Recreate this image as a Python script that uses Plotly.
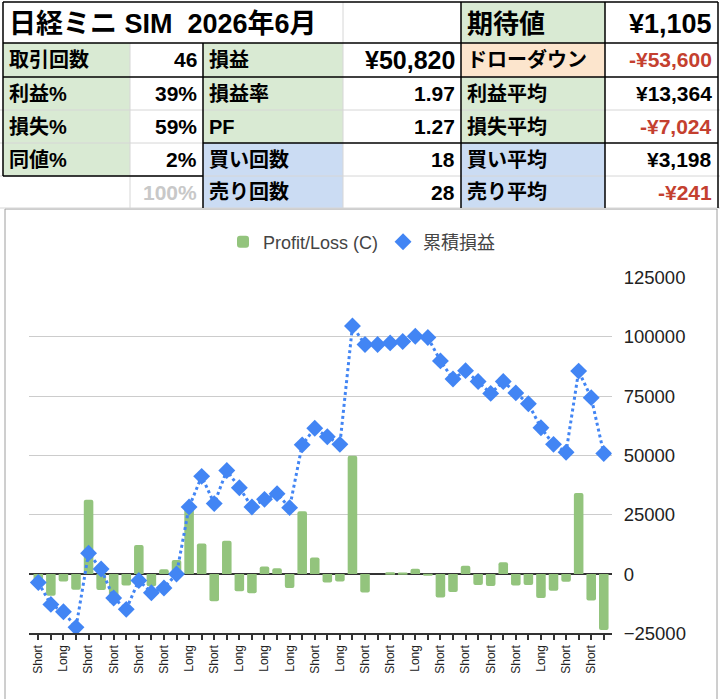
import plotly.graph_objects as go

# trade-by-trade profit/loss (yen) and cumulative P/L
pnl = [-3600, -9200, -3100, -6600, 31300, -6700, -12200, -4800, 12200, -5200,
       2000, 5900, 28300, 12900, -11500, 14000, -7300, -8100, 3200, 2400,
       -5900, 26500, 7000, -3600, -3200, 49900, -7800, 0, 700, 600,
       2200, -500, -9900, -7600, 3500, -4600, -5000, 5000, -4800, -4600,
       -10100, -7000, -3300, 34200, -11200, -23580]
cum_pnl = [-3600, -12800, -15900, -22500, 8800, 2100, -10100, -14900, -2700, -7900,
           -5900, 0, 28300, 41200, 29700, 43700, 36400, 28300, 31500, 33900,
           28000, 54500, 61500, 57900, 54700, 104600, 96800, 96800, 97500, 98100,
           100300, 99800, 89900, 82300, 85800, 81200, 76200, 81200, 76400, 71800,
           61700, 54700, 51400, 85600, 74400, 50820]
# every other trade is labelled on the x axis
tick_labels = ["Short", "Long", "Short", "Short", "Short", "Short", "Long", "Short",
               "Long", "Long", "Long", "Short", "Long", "Short", "Short", "Long",
               "Short", "Short", "Short", "Short", "Long", "Short", "Short"]
y_ticks = [-25000, 0, 25000, 50000, 75000, 100000, 125000]

# summary table
title_text = "日経ミニ SIM\u00a0 2026年6月"
ev_label, ev_value = "期待値", "¥1,105"
labels_a = ["取引回数", "利益%", "損失%", "同値%", ""]
values_b = ["46", "39%", "59%", "2%", "100%"]
labels_c = ["損益", "損益率", "PF", "買い回数", "売り回数"]
values_d = ["¥50,820", "1.97", "1.27", "18", "28"]
labels_e = ["ドローダウン", "利益平均", "損失平均", "買い平均", "売り平均"]
values_f = ["-¥53,600", "¥13,364", "-¥7,024", "¥3,198", "-¥241"]

W, H = 720, 699
GREEN = "#d9ead3"
BLUE = "#cbdcf3"
ORANGE = "#fce5cd"
RED = "#c4402f"
FONT = "Liberation Sans, Arial, Noto Sans CJK JP, sans-serif"

def fx(x):
    return x / W

def fy(y):
    return 1 - y / H

col_x = [3, 130, 203, 343, 461, 605, 718]
row_y = [2, 43, 77, 110, 143, 176, 208]

shapes = []
annotations = []

def cell(c0, c1, r, fill):
    shapes.append(dict(type="rect", xref="paper", yref="paper", layer="below",
                       x0=fx(col_x[c0]), x1=fx(col_x[c1]),
                       y0=fy(row_y[r + 1]), y1=fy(row_y[r]),
                       fillcolor=fill, line=dict(width=0)))

def text(c, r, s, align="left", size=20, color="black", dy=0):
    if align == "left":
        x, anchor = col_x[c] + 4, "left"
    else:
        x, anchor = col_x[c + 1] - 4, "right"
    yc = (row_y[r] + row_y[r + 1]) / 2 + dy
    annotations.append(dict(xref="paper", yref="paper", x=fx(x), y=fy(yc),
                            xanchor=anchor, yanchor="middle", showarrow=False,
                            text=s, font=dict(family=FONT, size=size, color=color,
                                              weight="bold")))

def hline(y, x0, x1, color, width):
    shapes.append(dict(type="line", xref="paper", yref="paper", x0=fx(x0), x1=fx(x1),
                       y0=fy(y), y1=fy(y), line=dict(color=color, width=width)))

def vline(x, y0, y1, color, width):
    shapes.append(dict(type="line", xref="paper", yref="paper", x0=fx(x), x1=fx(x),
                       y0=fy(y0), y1=fy(y1), line=dict(color=color, width=width)))

# cell fills
cell(4, 5, 0, GREEN)
for r in range(1, 5):
    cell(0, 1, r, GREEN)
for r in range(1, 4):
    cell(2, 3, r, GREEN)
for r in range(4, 6):
    cell(2, 3, r, BLUE)
    cell(4, 5, r, BLUE)
cell(4, 5, 1, ORANGE)
for r in range(2, 4):
    cell(4, 5, r, GREEN)

# light sheet gridlines
LIGHT = "#d6d6d6"
for y in [110, 176, 208]:
    hline(y, 0, 720, LIGHT, 1)
hline(143, 0, 203, LIGHT, 1)
vline(130, 43, 208, LIGHT, 1)
vline(343, 2, 208, LIGHT, 1)

# dark borders
for y in [2, 43, 77]:
    hline(y, 3, 718, "black", 1.5)
hline(143, 203, 718, "black", 1.5)
hline(176, 3, 203, "black", 1.5)
vline(3, 2, 176, "black", 1.5)
vline(203, 43, 208, "black", 1.5)
vline(461, 2, 208, "black", 1.5)
vline(605, 2, 208, "black", 1.5)
vline(718, 2, 208, "black", 1.5)

# table texts
text(0, 0, title_text, size=27, dy=1)
text(4, 0, ev_label, size=26, dy=1)
text(5, 0, ev_value, align="right", size=27, dy=1)
for i in range(5):
    r = i + 1
    text(0, r, labels_a[i], size=20)
    text(1, r, values_b[i], align="right", size=21,
         color="#c8c8c8" if values_b[i] == "100%" else "black")
    text(2, r, labels_c[i], size=20)
    text(3, r, values_d[i], align="right", size=25 if i == 0 else 21)
    text(4, r, labels_e[i], size=20)
    text(5, r, values_f[i], align="right", size=21,
         color=RED if values_f[i].startswith("-") else "black")

# chart frame
shapes.append(dict(type="rect", xref="paper", yref="paper", layer="below",
                   x0=fx(5), x1=fx(717), y0=fy(705), y1=fy(209),
                   fillcolor="white", line=dict(color="#9e9e9e", width=1)))

x = list(range(len(pnl)))
tickvals = x
ticktext = [tick_labels[i // 2] if i % 2 == 0 else "" for i in x]

fig = go.Figure()
fig.add_trace(go.Bar(x=x, y=pnl, name="Profit/Loss (C)",
                     marker=dict(color="#93c47d", line=dict(width=0))))
fig.add_trace(go.Scatter(x=x, y=cum_pnl, mode="lines", showlegend=False,
                         line=dict(color="#4285f4", width=3, dash="dot")))
fig.add_trace(go.Scatter(x=x, y=cum_pnl, mode="markers", name="累積損益",
                         marker=dict(color="#4285f4", symbol="diamond", size=13)))

fig.update_layout(
    width=W, height=H,
    margin=dict(l=0, r=0, t=0, b=0, autoexpand=False),
    paper_bgcolor="white", plot_bgcolor="rgba(0,0,0,0)",
    bargap=0.24, barcornerradius=2,
    shapes=shapes, annotations=annotations,
    showlegend=True,
    legend=dict(orientation="h", x=fx(362), xanchor="center", y=fy(242), yanchor="middle",
                font=dict(family=FONT, size=18, color="#444444"), bgcolor="rgba(0,0,0,0)"),
    xaxis=dict(domain=[fx(29.3), fx(611.7)], range=[-0.716, 45.63], automargin=False,
               tickmode="array", tickvals=tickvals, ticktext=ticktext, tickangle=-90,
               ticks="outside", ticklen=5, tickwidth=1.5, tickcolor="#333333",
               showline=True, linecolor="#333333", linewidth=2, showgrid=False,
               zeroline=False, tickfont=dict(family=FONT, size=12, color="#222222")),
    yaxis=dict(domain=[fy(633.3), fy(277.7)], range=[-25000, 125000], side="right",
               automargin=False,
               tickmode="array", tickvals=y_ticks, tickformat="d",
               showgrid=True, gridcolor="#cccccc", gridwidth=1,
               zeroline=True, zerolinecolor="#333333", zerolinewidth=2,
               ticklabelstandoff=11, tickfont=dict(family=FONT, size=18.5, color="#222222")),
)

fig.write_html("out.html", config={"displayModeBar": False},
               post_script="document.body.style.margin='0px';")
